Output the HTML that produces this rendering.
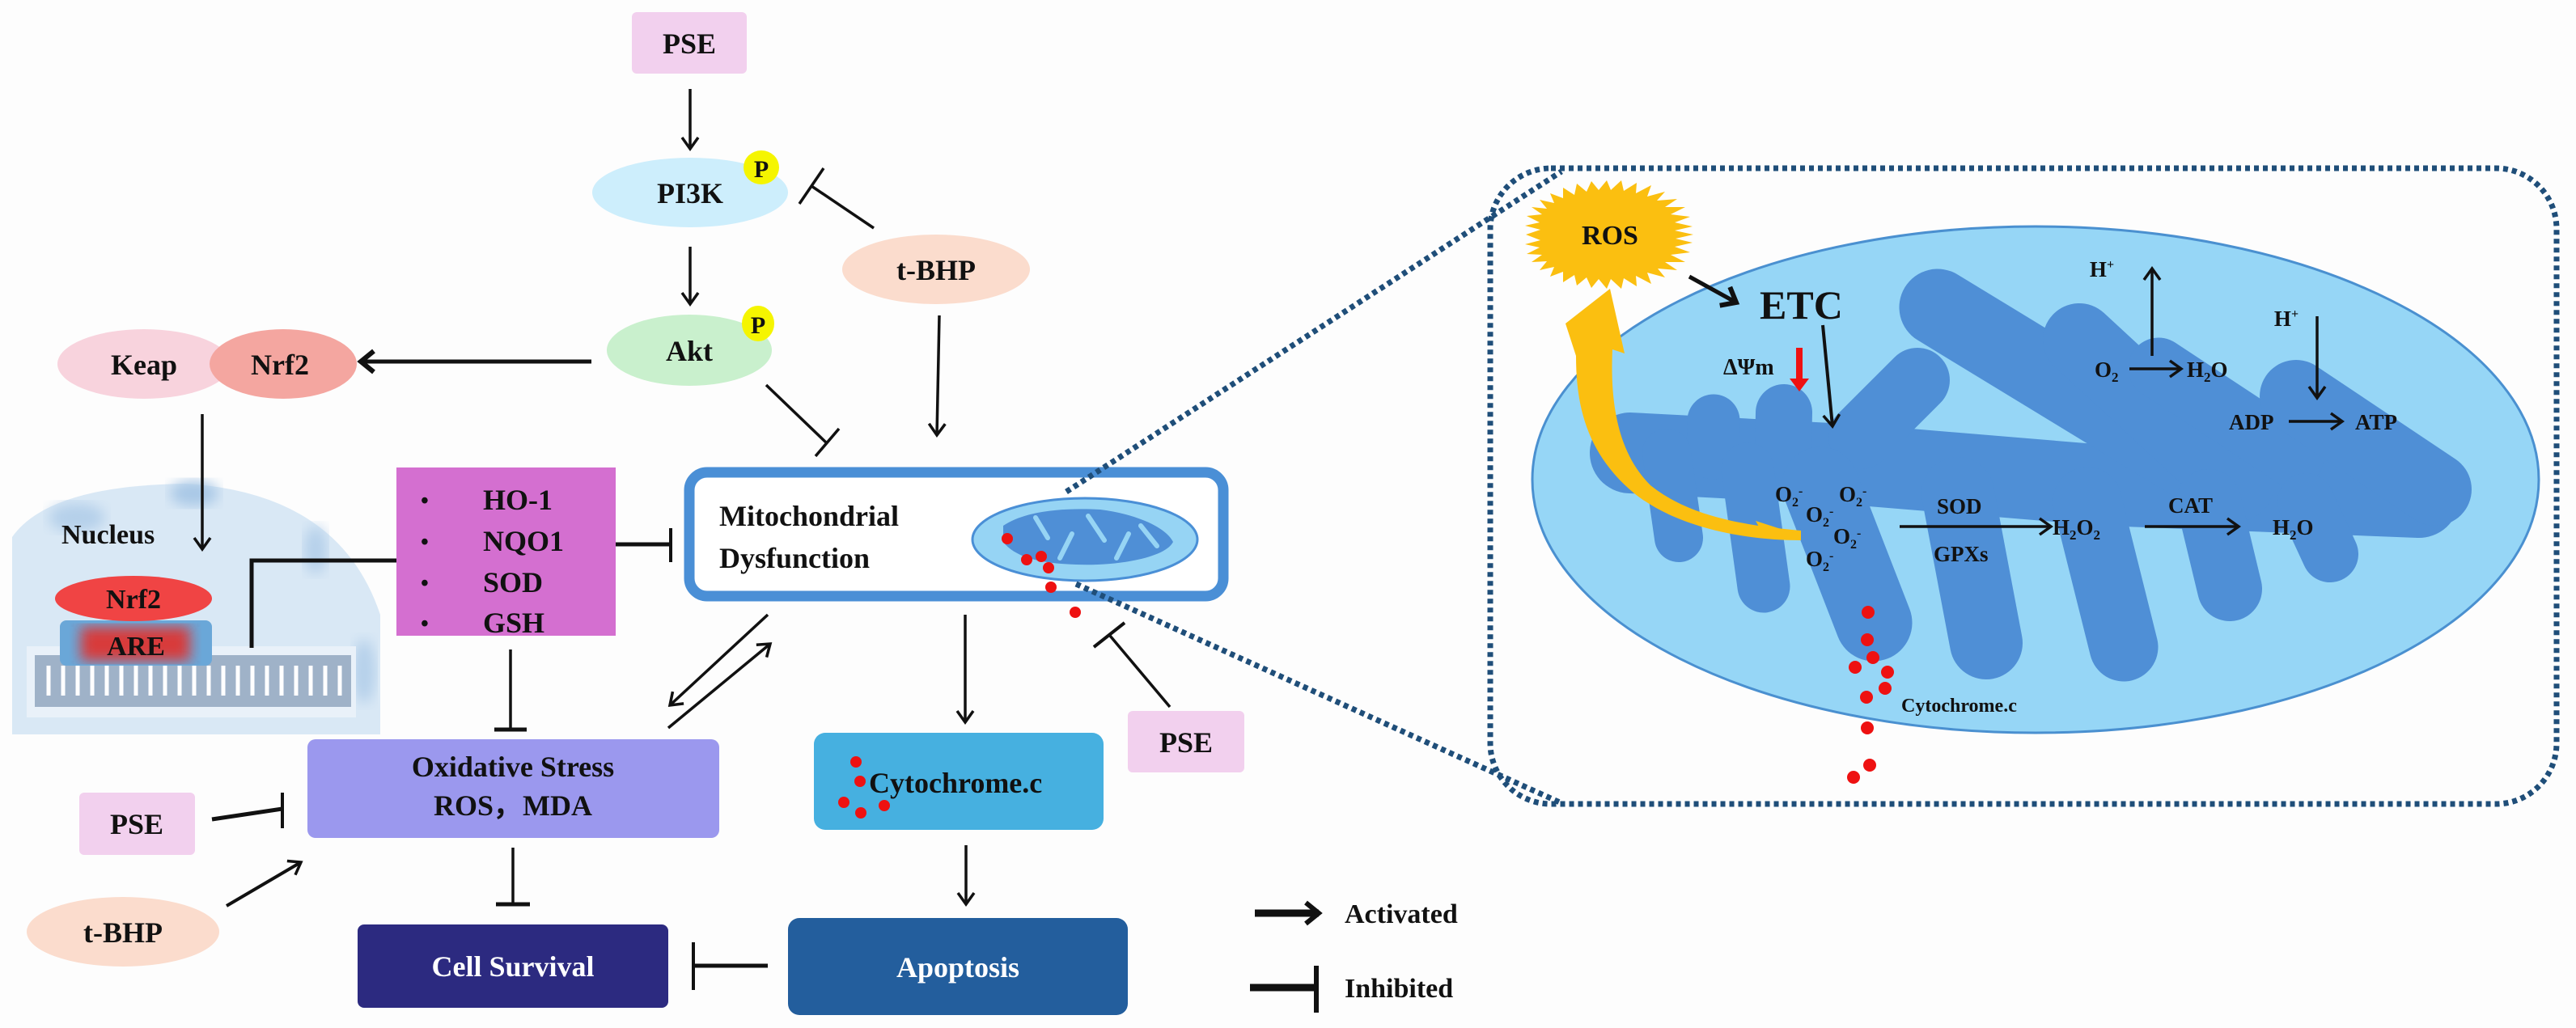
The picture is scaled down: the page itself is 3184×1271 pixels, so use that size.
<!DOCTYPE html>
<html><head><meta charset="utf-8"><style>
html,body{margin:0;padding:0;background:#fdfdfd;}
svg{display:block;}
text{font-family:"Liberation Serif",serif;font-weight:bold;fill:#111;}
</style></head><body>
<svg width="3184" height="1271" viewBox="0 0 3184 1271" xmlns="http://www.w3.org/2000/svg">
<defs>
<marker id="a" markerUnits="userSpaceOnUse" markerWidth="30" markerHeight="30" refX="18" refY="12" orient="auto">
<path d="M4,2 L18,12 L4,22" fill="none" stroke="#111" stroke-width="3.5"/></marker>
<marker id="ab" markerUnits="userSpaceOnUse" markerWidth="40" markerHeight="40" refX="22" refY="16" orient="auto">
<path d="M6,3 L22,16 L6,29" fill="none" stroke="#111" stroke-width="6"/></marker>
<filter id="bl"><feGaussianBlur stdDeviation="8"/></filter>
</defs>
<rect width="3184" height="1271" fill="#fdfdfd"/>

<!-- Nucleus -->
<path d="M15,908 L15,664 Q60,600 230,598 Q420,610 470,760 L470,908 Z" fill="#d9e8f5"/>
<ellipse cx="95" cy="640" rx="35" ry="18" fill="#b5d0ea" filter="url(#bl)"/>
<ellipse cx="240" cy="610" rx="30" ry="16" fill="#a9c8e6" filter="url(#bl)"/>
<ellipse cx="390" cy="680" rx="14" ry="30" fill="#b5d0ea" filter="url(#bl)"/>
<ellipse cx="450" cy="830" rx="14" ry="40" fill="#b5d0ea" filter="url(#bl)"/>
<rect x="33" y="799" width="407" height="88" fill="#e9f1f9"/>
<rect x="43" y="810" width="391" height="64" fill="#9fb2c8"/>
<g stroke="#fff" stroke-width="5">
<line x1="60" y1="823" x2="60" y2="860"/><line x1="78" y1="823" x2="78" y2="860"/><line x1="96" y1="823" x2="96" y2="860"/><line x1="114" y1="823" x2="114" y2="860"/><line x1="132" y1="823" x2="132" y2="860"/><line x1="150" y1="823" x2="150" y2="860"/><line x1="168" y1="823" x2="168" y2="860"/><line x1="186" y1="823" x2="186" y2="860"/><line x1="204" y1="823" x2="204" y2="860"/><line x1="222" y1="823" x2="222" y2="860"/><line x1="240" y1="823" x2="240" y2="860"/><line x1="258" y1="823" x2="258" y2="860"/><line x1="276" y1="823" x2="276" y2="860"/><line x1="294" y1="823" x2="294" y2="860"/><line x1="312" y1="823" x2="312" y2="860"/><line x1="330" y1="823" x2="330" y2="860"/><line x1="348" y1="823" x2="348" y2="860"/><line x1="366" y1="823" x2="366" y2="860"/><line x1="384" y1="823" x2="384" y2="860"/><line x1="402" y1="823" x2="402" y2="860"/><line x1="420" y1="823" x2="420" y2="860"/>
</g>
<rect x="74" y="767" width="188" height="56" rx="8" fill="#6aa7d8"/>
<rect x="100" y="775" width="135" height="42" fill="#d83a3a" filter="url(#bl)"/>
<text x="168" y="810" font-size="34" text-anchor="middle">ARE</text>
<ellipse cx="165" cy="740" rx="97" ry="28" fill="#f04444"/>
<text x="165" y="752" font-size="34" text-anchor="middle">Nrf2</text>
<text x="76" y="672" font-size="34">Nucleus</text>
<line x1="250" y1="512" x2="250" y2="679" stroke="#111" stroke-width="3.5" marker-end="url(#a)"/>
<polyline points="311,801 311,693 528,693" fill="none" stroke="#111" stroke-width="5" marker-end="url(#ab)"/>

<!-- Top -->
<rect x="781" y="15" width="142" height="76" rx="6" fill="#f2d0ee"/>
<text x="852" y="66" font-size="36" text-anchor="middle">PSE</text>
<line x1="853" y1="110" x2="853" y2="184" stroke="#111" stroke-width="3.5" marker-end="url(#a)"/>
<ellipse cx="853" cy="238" rx="121" ry="43" fill="#cdeefc"/>
<text x="853" y="251" font-size="36" text-anchor="middle">PI3K</text>
<ellipse cx="941" cy="207" rx="22" ry="21" fill="#f5f500"/>
<text x="941" y="219" font-size="30" text-anchor="middle">P</text>
<line x1="1080" y1="282" x2="1003" y2="230" stroke="#111" stroke-width="3.5"/>
<line x1="988" y1="252" x2="1018" y2="208" stroke="#111" stroke-width="3.5"/>
<line x1="853" y1="305" x2="853" y2="376" stroke="#111" stroke-width="3.5" marker-end="url(#a)"/>
<ellipse cx="1157" cy="333" rx="116" ry="43" fill="#fbdccd"/>
<text x="1157" y="346" font-size="36" text-anchor="middle">t-BHP</text>
<ellipse cx="852" cy="433" rx="102" ry="44" fill="#c9f0cd"/>
<text x="852" y="446" font-size="36" text-anchor="middle">Akt</text>
<ellipse cx="937" cy="400" rx="20" ry="22" fill="#f5f500"/>
<text x="937" y="412" font-size="30" text-anchor="middle">P</text>
<ellipse cx="178" cy="450" rx="107" ry="43" fill="#f8d3dd"/>
<ellipse cx="350" cy="450" rx="91" ry="43" fill="#f4a6a0"/>
<text x="178" y="463" font-size="36" text-anchor="middle">Keap</text>
<text x="346" y="463" font-size="36" text-anchor="middle">Nrf2</text>
<line x1="731" y1="447" x2="446" y2="447" stroke="#111" stroke-width="5" marker-end="url(#ab)"/>
<line x1="947" y1="476" x2="1022" y2="548" stroke="#111" stroke-width="3.5"/>
<line x1="1008" y1="564" x2="1037" y2="530" stroke="#111" stroke-width="3.5"/>
<line x1="1161" y1="390" x2="1158" y2="538" stroke="#111" stroke-width="3.5" marker-end="url(#a)"/>

<!-- Purple box -->
<rect x="490" y="578" width="271" height="208" fill="#d46fd0"/>
<g font-size="36">
<text x="520" y="628" font-size="28">•</text><text x="597" y="630">HO-1</text>
<text x="520" y="679" font-size="28">•</text><text x="597" y="681">NQO1</text>
<text x="520" y="730" font-size="28">•</text><text x="597" y="732">SOD</text>
<text x="520" y="780" font-size="28">•</text><text x="597" y="782">GSH</text>
</g>
<line x1="761" y1="673" x2="829" y2="673" stroke="#111" stroke-width="5"/>
<line x1="829" y1="653" x2="829" y2="695" stroke="#111" stroke-width="4"/>

<!-- Mito box -->
<rect x="852" y="584" width="660" height="153" rx="22" fill="#fff" stroke="#4a8fd6" stroke-width="13"/>
<text x="889" y="650" font-size="36">Mitochondrial</text>
<text x="889" y="702" font-size="36">Dysfunction</text>
<ellipse cx="1341" cy="667" rx="139" ry="51" fill="#96d4f4" stroke="#4a8fd6" stroke-width="3"/>
<path d="M1240,650 C1270,630 1320,628 1360,630 C1400,635 1440,650 1450,670 C1440,690 1380,700 1330,698 C1290,697 1255,690 1240,670 Z" fill="#4f8fd6"/>
<g stroke="#96d4f4" stroke-width="6" stroke-linecap="round"><line x1="1280" y1="640" x2="1295" y2="665"/><line x1="1310" y1="690" x2="1325" y2="660"/><line x1="1345" y1="638" x2="1365" y2="668"/><line x1="1380" y1="690" x2="1395" y2="660"/><line x1="1410" y1="650" x2="1430" y2="675"/></g>
<g fill="#ee1111"><circle cx="1245" cy="666" r="7"/><circle cx="1269" cy="692" r="7"/><circle cx="1287" cy="688" r="7"/><circle cx="1296" cy="702" r="7"/><circle cx="1299" cy="726" r="7"/><circle cx="1329" cy="757" r="7"/></g>

<!-- dotted connectors & box -->
<g stroke="#1f4e79" stroke-width="7" stroke-dasharray="6,5" fill="none">
<line x1="1318" y1="608" x2="1930" y2="212"/>
<line x1="1330" y1="722" x2="1930" y2="993"/>
<rect x="1842" y="208" width="1318" height="786" rx="75"/>
</g>

<!-- middle arrows -->
<line x1="631" y1="803" x2="631" y2="902" stroke="#111" stroke-width="3.5"/>
<line x1="611" y1="902" x2="651" y2="902" stroke="#111" stroke-width="5"/>
<line x1="949" y1="760" x2="828" y2="872" stroke="#111" stroke-width="3.5" marker-end="url(#a)"/>
<line x1="826" y1="900" x2="952" y2="796" stroke="#111" stroke-width="3.5" marker-end="url(#a)"/>
<line x1="1193" y1="760" x2="1193" y2="893" stroke="#111" stroke-width="3.5" marker-end="url(#a)"/>
<line x1="1446" y1="874" x2="1372" y2="786" stroke="#111" stroke-width="3.5"/>
<line x1="1352" y1="800" x2="1390" y2="770" stroke="#111" stroke-width="4"/>
<rect x="1394" y="879" width="144" height="76" rx="6" fill="#f2d0ee"/>
<text x="1466" y="930" font-size="36" text-anchor="middle">PSE</text>

<rect x="380" y="914" width="509" height="122" rx="10" fill="#9b98ee"/>
<text x="634" y="960" font-size="36" text-anchor="middle">Oxidative Stress</text>
<text x="634" y="1008" font-size="36" text-anchor="middle">ROS，MDA</text>

<rect x="1006" y="906" width="358" height="120" rx="14" fill="#46b0e0"/>
<text x="1074" y="980" font-size="36">Cytochrome.c</text>
<g fill="#ee1111"><circle cx="1058" cy="942" r="7"/><circle cx="1063" cy="966" r="7"/><circle cx="1043" cy="992" r="7"/><circle cx="1064" cy="1005" r="7"/><circle cx="1093" cy="996" r="7"/></g>

<rect x="98" y="980" width="143" height="77" rx="6" fill="#f2d0ee"/>
<text x="169" y="1031" font-size="36" text-anchor="middle">PSE</text>
<line x1="262" y1="1013" x2="349" y2="1000" stroke="#111" stroke-width="5"/>
<line x1="349" y1="980" x2="349" y2="1024" stroke="#111" stroke-width="4"/>
<ellipse cx="152" cy="1152" rx="119" ry="43" fill="#fbdccd"/>
<text x="152" y="1165" font-size="36" text-anchor="middle">t-BHP</text>
<line x1="280" y1="1120" x2="372" y2="1066" stroke="#111" stroke-width="4" marker-end="url(#a)"/>
<line x1="634" y1="1048" x2="634" y2="1118" stroke="#111" stroke-width="3.5"/>
<line x1="613" y1="1118" x2="655" y2="1118" stroke="#111" stroke-width="5"/>
<line x1="1194" y1="1045" x2="1194" y2="1118" stroke="#111" stroke-width="3.5" marker-end="url(#a)"/>

<rect x="442" y="1143" width="384" height="103" rx="8" fill="#2c2a80"/>
<text x="634" y="1207" font-size="36" text-anchor="middle" style="fill:#fff">Cell Survival</text>
<rect x="974" y="1135" width="420" height="120" rx="14" fill="#235e9d"/>
<text x="1184" y="1208" font-size="36" text-anchor="middle" style="fill:#fff">Apoptosis</text>
<line x1="949" y1="1194" x2="857" y2="1194" stroke="#111" stroke-width="5"/>
<line x1="857" y1="1165" x2="857" y2="1224" stroke="#111" stroke-width="4"/>

<!-- legend -->
<line x1="1551" y1="1129" x2="1630" y2="1129" stroke="#111" stroke-width="9" marker-end="url(#ab)"/>
<text x="1662" y="1141" font-size="34">Activated</text>
<line x1="1545" y1="1221" x2="1625" y2="1221" stroke="#111" stroke-width="9"/>
<line x1="1627" y1="1194" x2="1627" y2="1252" stroke="#111" stroke-width="6"/>
<text x="1662" y="1233" font-size="34">Inhibited</text>

<!-- big mitochondrion -->
<ellipse cx="2516" cy="593" rx="622" ry="313" fill="#96d6f6" stroke="#4a90d0" stroke-width="3"/>
<g stroke="#4f8fd6" stroke-linecap="round" stroke-linejoin="round" fill="none">
<polyline points="2015,560 2300,575 2600,600 2990,615" stroke-width="100"/>
<line x1="2117" y1="560" x2="2118" y2="520" stroke-width="65"/>
<line x1="2204" y1="560" x2="2205" y2="510" stroke-width="70"/>
<line x1="2300" y1="540" x2="2370" y2="470" stroke-width="80"/>
<line x1="2395" y1="380" x2="2715" y2="575" stroke-width="95"/>
<line x1="2570" y1="420" x2="2765" y2="600" stroke-width="90"/>
<line x1="2668" y1="455" x2="2835" y2="565" stroke-width="75"/>
<line x1="2838" y1="490" x2="3010" y2="605" stroke-width="90"/>
<line x1="2060" y1="560" x2="2075" y2="665" stroke-width="60"/>
<line x1="2160" y1="580" x2="2180" y2="725" stroke-width="65"/>
<line x1="2250" y1="600" x2="2316" y2="770" stroke-width="95"/>
<line x1="2420" y1="610" x2="2455" y2="795" stroke-width="90"/>
<line x1="2580" y1="620" x2="2625" y2="800" stroke-width="85"/>
<line x1="2730" y1="620" x2="2756" y2="728" stroke-width="80"/>
<line x1="2850" y1="620" x2="2880" y2="685" stroke-width="70"/>
</g>
<!-- ROS sun -->
<polygon fill="#fbbf10" points="2093,290 2071,295 2092,300 2070,305 2089,312 2065,315 2083,324 2058,324 2073,334 2049,332 2058,343 2036,337 2041,351 2022,341 2023,354 2007,344 2004,357 1991,345 1986,357 1976,345 1967,356 1961,343 1949,353 1946,340 1932,349 1932,336 1916,342 1921,330 1903,334 1912,323 1893,324 1906,315 1887,314 1903,306 1885,302 1904,297 1886,290 1904,284 1885,279 1903,275 1887,267 1906,265 1893,256 1912,258 1903,247 1921,251 1916,239 1932,245 1932,232 1946,241 1949,227 1961,237 1967,224 1976,235 1986,223 1991,235 2004,223 2007,236 2023,226 2022,239 2041,229 2036,243 2058,237 2048,248 2073,246 2058,256 2083,256 2065,265 2089,268 2070,275 2092,280 2070,285"/>
<text x="1990" y="302" font-size="34" text-anchor="middle">ROS</text>
<!-- yellow curved arrow -->
<path d="M1990,357 L2008,437 L1993,432 C1990,500 2000,560 2040,600 C2090,640 2160,650 2226,656 L2226,668 C2150,668 2070,650 2020,610 C1960,560 1948,500 1948,440 L1935,400 Z" fill="#fbbf10"/>
<path d="M2226,662 L2170,644 L2180,662 Z" fill="#fbbf10"/>

<line x1="2088" y1="342" x2="2146" y2="374" stroke="#111" stroke-width="5" marker-end="url(#ab)"/>
<text x="2175" y="394" font-size="50">ETC</text>
<line x1="2253" y1="402" x2="2265" y2="527" stroke="#111" stroke-width="4" marker-end="url(#a)"/>
<text x="2130" y="463" font-size="28">ΔΨm</text>
<line x1="2224" y1="430" x2="2224" y2="470" stroke="#ee1111" stroke-width="8"/>
<polygon points="2212,468 2236,468 2224,484" fill="#ee1111"/>

<g font-size="27">
<text x="2598" y="342" text-anchor="middle">H<tspan font-size="16" dy="-10">+</tspan></text>
<text x="2826" y="403" text-anchor="middle">H<tspan font-size="16" dy="-10">+</tspan></text>
<text x="2589" y="466">O<tspan font-size="17" dy="6">2</tspan></text>
<text x="2703" y="466">H<tspan font-size="17" dy="6">2</tspan><tspan dy="-6">O</tspan></text>
<text x="2755" y="531">ADP</text>
<text x="2911" y="531">ATP</text>
<text x="2394" y="635">SOD</text>
<text x="2390" y="694">GPXs</text>
<text x="2537" y="661">H<tspan font-size="17" dy="6">2</tspan><tspan dy="-6">O</tspan><tspan font-size="17" dy="6">2</tspan></text>
<text x="2680" y="634">CAT</text>
<text x="2809" y="661">H<tspan font-size="17" dy="6">2</tspan><tspan dy="-6">O</tspan></text>
<text x="2194" y="620">O<tspan font-size="16" dy="6">2</tspan><tspan font-size="16" dy="-14">-</tspan></text>
<text x="2273" y="620">O<tspan font-size="16" dy="6">2</tspan><tspan font-size="16" dy="-14">-</tspan></text>
<text x="2232" y="645">O<tspan font-size="16" dy="6">2</tspan><tspan font-size="16" dy="-14">-</tspan></text>
<text x="2266" y="672">O<tspan font-size="16" dy="6">2</tspan><tspan font-size="16" dy="-14">-</tspan></text>
<text x="2232" y="700">O<tspan font-size="16" dy="6">2</tspan><tspan font-size="16" dy="-14">-</tspan></text>
</g>
<line x1="2660" y1="440" x2="2660" y2="332" stroke="#111" stroke-width="3.5" marker-end="url(#a)"/>
<line x1="2632" y1="456" x2="2696" y2="456" stroke="#111" stroke-width="3.5" marker-end="url(#a)"/>
<line x1="2864" y1="391" x2="2864" y2="492" stroke="#111" stroke-width="3.5" marker-end="url(#a)"/>
<line x1="2829" y1="521" x2="2895" y2="521" stroke="#111" stroke-width="3.5" marker-end="url(#a)"/>
<line x1="2348" y1="651" x2="2535" y2="651" stroke="#111" stroke-width="3.5" marker-end="url(#a)"/>
<line x1="2651" y1="651" x2="2767" y2="651" stroke="#111" stroke-width="3.5" marker-end="url(#a)"/>
<g fill="#ee1111"><circle cx="2309" cy="757" r="8"/><circle cx="2308" cy="791" r="8"/><circle cx="2315" cy="813" r="8"/><circle cx="2293" cy="825" r="8"/><circle cx="2333" cy="831" r="8"/><circle cx="2330" cy="851" r="8"/><circle cx="2307" cy="862" r="8"/><circle cx="2308" cy="900" r="8"/><circle cx="2311" cy="946" r="8"/><circle cx="2291" cy="961" r="8"/></g>
<text x="2350" y="880" font-size="24">Cytochrome.c</text>
</svg>
</body></html>
